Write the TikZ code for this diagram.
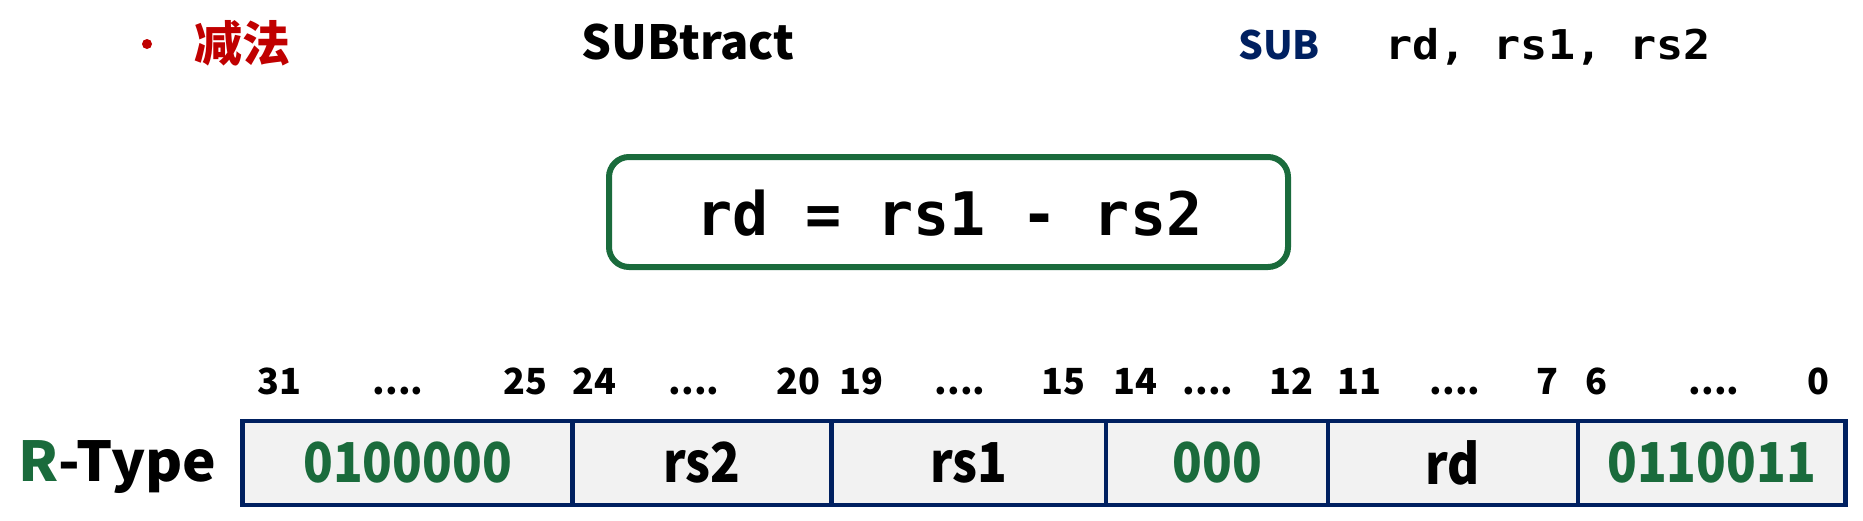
\documentclass[tikz,border=0pt]{standalone}
\usepackage{fontspec}
\newfontfamily\hei{Noto Sans CJK SC}
\newfontfamily\heic{Noto Sans CJK SC}[FakeStretch=0.89]
\newfontfamily\heiw{Noto Sans CJK SC}[FakeStretch=1.03]
\newfontfamily\mono{DejaVu Sans Mono}
\newfontfamily\monow{DejaVu Sans Mono}[FakeStretch=1.1]
\definecolor{tred}{HTML}{C00000}
\definecolor{tgreen}{HTML}{1A6B3C}
\definecolor{tnavy}{HTML}{002060}
\definecolor{cellgray}{HTML}{F2F2F2}
\newcommand{\fourdots}{....}
\tikzset{
  fs/.style={font=\hei\bfseries\fontsize{#1}{#1}\selectfont},
  ms/.style={font=\mono\bfseries\fontsize{#1}{#1}\selectfont},
  bitlbl/.style={fs=36, anchor=base, inner sep=0},
  cell/.style={draw=tnavy, line width=4.5pt, fill=cellgray, minimum height=84pt, inner sep=0, outer sep=0, anchor=west, font=\heic\bfseries\fontsize{55}{55}\selectfont},
}
\begin{document}
\begin{tikzpicture}[x=1pt,y=-1pt]
\useasboundingbox (0,0) rectangle (1863,520);
% top line
\node[circle, fill=tred, inner sep=0, minimum size=10pt] (bullet) at (147,44) {};
\node[fs=48, text=tred, anchor=base west, inner sep=0] (title) at (194,61) {减法};
\node[fs=47, anchor=base west, inner sep=0] (eng) at (581,59) {SUBtract};
\node[fs=39, text=tnavy, anchor=base west, inner sep=0] (op) at (1238,59) {SUB};
\node[font=\monow\bfseries\fontsize{41}{41}\selectfont, anchor=base west, inner sep=0] (args) at (1385,59) {rd, rs1, rs2};
% formula box
\node[draw=tgreen, line width=6pt, rounded corners=20pt, minimum width=679pt, minimum height=110pt] (box) at (948.5,212) {};
\node[ms=60, anchor=base, inner sep=0] (formula) at (949.5,235) {rd = rs1 - rs2};
% bit labels
\foreach \t/\x [count=\i] in {31/279, \fourdots/398, 25/525, 24/594, \fourdots/694, 20/798, 19/861, \fourdots/960, 15/1063, 14/1135, \fourdots/1208, 12/1291, 11/1359, \fourdots/1455, 7/1547, 6/1596, \fourdots/1714, 0/1818}
  \node[bitlbl] (b\i) at (\x,394) {\t};
% R-Type label
\node[font=\heiw\bfseries\fontsize{55}{55}\selectfont, anchor=base west, inner sep=0] (rtype) at (18,481) {\textcolor{tgreen}{R}-Type};
% cells
\node[cell, minimum width=330.2pt, text=tgreen] (c1) at (242.5,463) {0100000};
\node[cell, minimum width=259pt] (c2) at (c1.east) {rs2};
\node[cell, minimum width=274.4pt] (c3) at (c2.east) {rs1};
\node[cell, minimum width=222pt, text=tgreen] (c4) at (c3.east) {000};
\node[cell, minimum width=249.7pt] (c5) at (c4.east) {rd};
\node[cell, minimum width=267.5pt, text=tgreen] (c6) at (c5.east) {0110011};
\end{tikzpicture}
\end{document}
